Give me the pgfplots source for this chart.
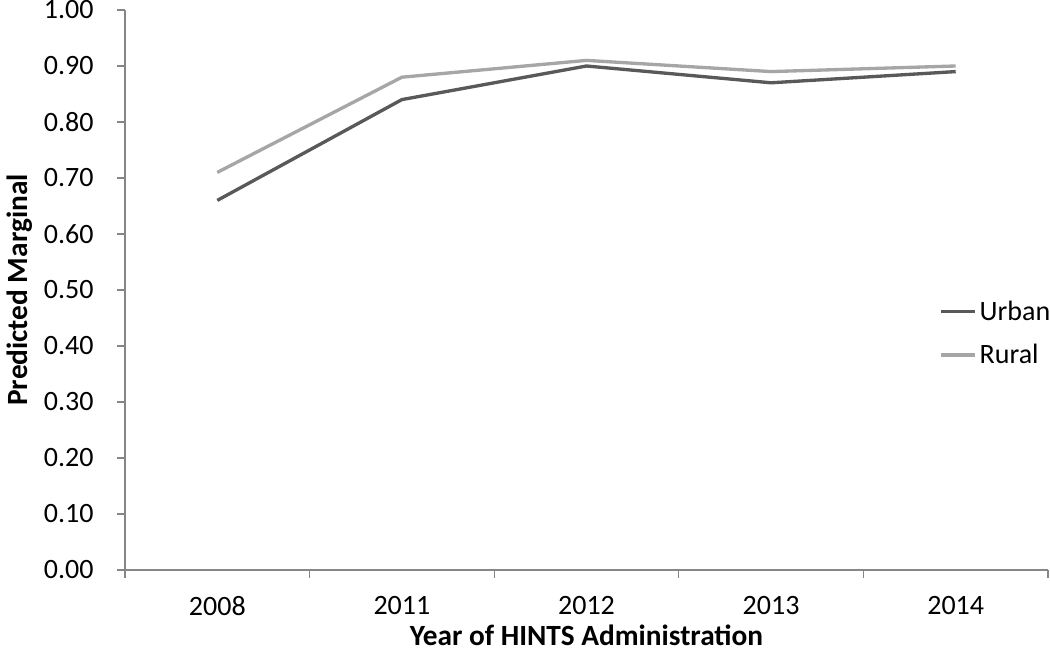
\documentclass[border=0pt]{standalone}
\usepackage{pgfplots}
\pgfplotsset{compat=1.18}
\usepackage{fontspec}
\setmainfont{Carlito}
\definecolor{urban}{RGB}{89,89,89}
\definecolor{rural}{RGB}{166,166,166}
\definecolor{axisgray}{RGB}{134,134,134}
\begin{document}
\begin{tikzpicture}
\path[use as bounding box] (-93.75pt,-64.5pt) rectangle (693.75pt,427.5pt);
\begin{axis}[
  at={(0,0)}, anchor=south west,
  scale only axis, width=692.25pt, height=420pt,
  xmin=-0.5, xmax=4.5, ymin=0, ymax=1,
  axis x line*=bottom, axis y line*=left,
  axis line style={axisgray, line width=0.8pt},
  tick align=outside,
  xtick={0,1,2,3,4},
  xticklabels={2008,2011,2012,2013,2014},
  major x tick style={draw=none},
  minor xtick={-0.5,0.5,1.5,2.5,3.5,4.5},
  minor x tick style={axisgray, line width=0.8pt},
  minor tick length=6pt,
  ytick={0,0.1,...,1.0},
  major y tick style={axisgray, line width=0.8pt},
  major tick length=6pt,
  yticklabel style={/pgf/number format/.cd, fixed, fixed zerofill, precision=2, /tikz/.cd, xshift=-14pt},
  /pgf/number format/assume math mode=true,
  xticklabel style={yshift=-10.5pt},
  ticklabel style={font=\fontsize{21}{25}\selectfont},
  label style={font=\bfseries\fontsize{22}{26}\selectfont},
  xlabel={Year of HINTS Administration},
  ylabel={Predicted Marginal},
  xlabel style={yshift=0pt},
  ylabel style={yshift=2pt},
  legend style={draw=none, fill=none, at={(0.878,0.423)}, anchor=west,
    font=\fontsize{21}{25}\selectfont, row sep=12.5pt,
    /tikz/every even column/.append style={column sep=0pt}},
  legend cell align=left,
  legend image code/.code={\draw[#1] (0pt,0pt) -- (25.5pt,0pt);},
]
\addplot[urban, line width=2.5pt] coordinates {(0,0.66) (1,0.84) (2,0.90) (3,0.87) (4,0.89)};
\addlegendentry{Urban}
\addplot[rural, line width=2.5pt] coordinates {(0,0.71) (1,0.88) (2,0.91) (3,0.89) (4,0.90)};
\addlegendentry{Rural}
\end{axis}
\end{tikzpicture}
\end{document}
